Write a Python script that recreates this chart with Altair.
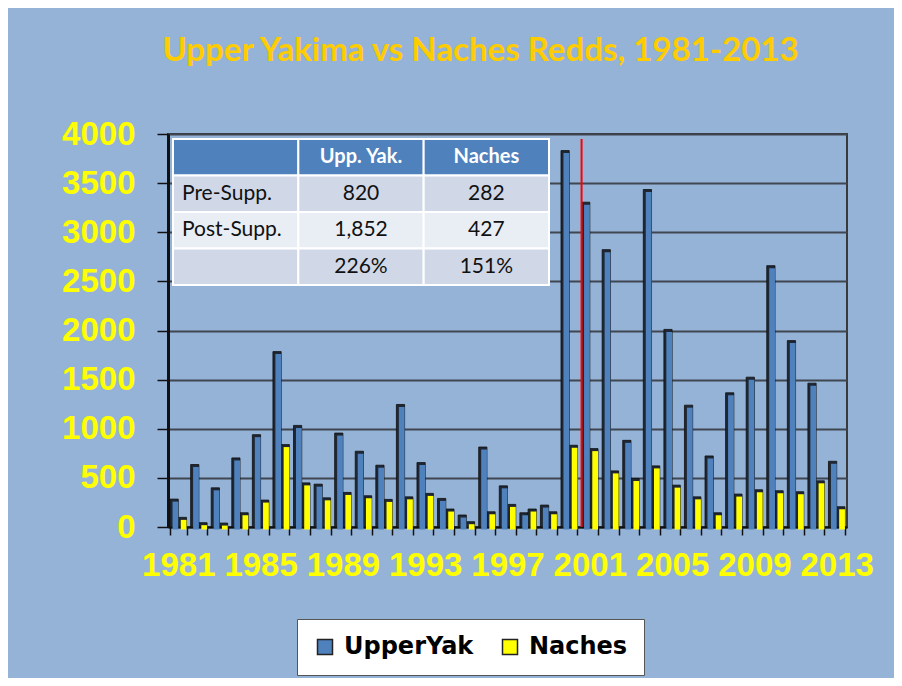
import altair as alt
import pandas as pd

# ---------------- data ----------------
years = list(range(1981, 2014))
upper_yak = [284, 636, 399, 703, 940, 1785, 1034, 436, 956, 771, 629, 1247, 656,
             291, 122, 814, 419, 145, 223, 3831, 3306, 2823, 882, 3435, 2011, 1240,
             723, 1366, 1525, 2660, 1897, 1464, 669]
naches = [98, 44, 40, 145, 274, 839, 449, 297, 352, 318, 281, 307, 342, 183, 54,
          155, 230, 183, 155, 832, 798, 571, 494, 622, 426, 307, 145, 335, 379, 369,
          359, 470, 206]
series_names = ["UpperYak", "Naches"]

supp_year = [2001]
supp_top = [3950]

table_col0 = ["", "Pre-Supp.", "Post-Supp.", ""]
table_col1 = ["Upp. Yak.", "820", "1,852", "226%"]
table_col2 = ["Naches", "282", "427", "151%"]

# ---------------- frames ----------------
df = pd.DataFrame({
    "year": years * 2,
    "series": [series_names[0]] * len(years) + [series_names[1]] * len(years),
    "redds": upper_yak + naches,
})
rule_df = pd.DataFrame({"year": supp_year, "top": supp_top})

cells = []
for r in range(4):
    for c, col in enumerate([table_col0, table_col1, table_col2]):
        cells.append({"row": r, "row_end": r + 1, "rowmid": r + 0.5,
                      "col": c, "col_end": c + 1, "colmid": c + 0.5,
                      "text": col[r]})
tbl = pd.DataFrame(cells)

BG = "#95B3D7"
YEL = "#FFFF00"

x_scale = alt.Scale(paddingInner=0.2, paddingOuter=0.1)
x_axis = alt.Axis(
    labelExpr="(datum.value - 1981) % 4 == 0 ? datum.label : ''",
    labelAngle=0, labelOverlap=False, labelFont="Liberation Sans",
    labelFontWeight="bold", labelFontSize=33, labelColor=YEL, labelPadding=14,
    tickBand="extent", tickColor="#111111", tickSize=8, tickWidth=1.5,
    domainColor="#111111", domainWidth=2, grid=False, title=None,
)
y_scale = alt.Scale(domain=[0, 4000], nice=False)
y_axis = alt.Axis(
    values=list(range(0, 4001, 500)), format="d", labelFont="Liberation Sans",
    labelFontWeight="bold", labelFontSize=33, labelColor=YEL, labelPadding=22,
    tickColor="#111111", tickSize=11, tickWidth=1.5, domainColor="#111111",
    domainWidth=3, gridColor="#3F4650", gridWidth=2, title=None,
)

xo = alt.XOffset("series:N", sort=series_names,
                 scale=alt.Scale(domain=series_names))

base = alt.Chart(df)
dark = base.mark_bar(fill="#1E2733", stroke="#101010", strokeWidth=0.8).encode(
    x=alt.X("year:O", scale=x_scale, axis=x_axis),
    y=alt.Y("redds:Q", scale=y_scale, axis=y_axis),
    xOffset=xo,
)
light = base.mark_bar(width=alt.RelativeBandSize(0.7), xOffset=-1.0, yOffset=2.5).encode(
    x=alt.X("year:O", scale=x_scale, axis=x_axis),
    y=alt.Y("redds:Q", scale=y_scale, axis=y_axis),
    xOffset=xo,
    fill=alt.Fill("series:N", sort=series_names,
                  scale=alt.Scale(domain=series_names, range=["#4F81BD", YEL]),
                  legend=alt.Legend(title=None, orient="none", legendX=129,
                                    legendY=485, direction="horizontal")),
)
rule = alt.Chart(rule_df).mark_rule(color="#FF0000", strokeWidth=2).encode(
    x=alt.X("year:O", bandPosition=0, scale=x_scale, axis=x_axis),
    y=alt.Y("top:Q", scale=y_scale, axis=y_axis),
    y2=alt.datum(0),
)
bars = alt.layer(dark, light, rule)

tx = alt.X("col:Q", scale=alt.Scale(domain=[0, 3], range=[5, 381]), axis=None)
ty = alt.Y("row:Q", scale=alt.Scale(domain=[0, 4], range=[5, 151]), axis=None)
tbase = alt.Chart(tbl)
trect = tbase.mark_rect(stroke="white", strokeWidth=2).encode(
    x=tx, x2="col_end:Q", y=ty, y2="row_end:Q",
    fill=alt.Fill("row:O", scale=alt.Scale(domain=[0, 1, 2, 3],
                  range=["#4F81BD", "#D0D8E8", "#E9EDF4", "#D0D8E8"]), legend=None),
)
txm = alt.X("colmid:Q", scale=alt.Scale(domain=[0, 3], range=[5, 381]), axis=None)
txl = alt.X("col:Q", scale=alt.Scale(domain=[0, 3], range=[5, 381]), axis=None)
tym = alt.Y("rowmid:Q", scale=alt.Scale(domain=[0, 4], range=[5, 151]), axis=None)
thead = tbase.transform_filter("datum.row == 0").mark_text(
    font="Lato", fontWeight="bold", fontSize=20, color="white", baseline="middle"
).encode(x=txm, y=tym, text="text:N")
tleft = tbase.transform_filter("datum.row > 0 && datum.col == 0").mark_text(
    font="Lato", fontSize=21, color="#111111", baseline="middle", align="left", dx=9
).encode(x=txl, y=tym, text="text:N")
tmid = tbase.transform_filter("datum.row > 0 && datum.col > 0").mark_text(
    font="Lato", fontSize=21, color="#111111", baseline="middle"
).encode(x=txm, y=tym, text="text:N")

chart = alt.layer(bars, trect, thead, tleft, tmid).resolve_scale(
    x="independent", y="independent", fill="independent"
).properties(
    width=679, height=393,
    background=BG,
    padding={"left": 160, "top": 126, "right": 47, "bottom": 151},
    autosize=alt.AutoSizeParams(type="none"),
    title=alt.TitleParams(
        "Upper Yakima vs Naches Redds, 1981-2013", font="Lato", fontSize=33,
        fontWeight="bold", color="#FFCC00", anchor="middle", dx=-27, offset=50,
    ),
).configure_view(
    stroke="#3A3A3A", strokeWidth=2, fill=BG
).configure_legend(
    fillColor="white", strokeColor="#555555", padding=16, symbolType="square",
    symbolSize=225, symbolStrokeColor="#222222", symbolStrokeWidth=1.5,
    labelFont="DejaVu Sans", labelFontWeight="bold", labelFontSize=24,
    labelColor="#000000", columnPadding=24, labelOffset=7, cornerRadius=0,
)

chart.save("out.html", embed_options={"renderer": "svg", "actions": False})
